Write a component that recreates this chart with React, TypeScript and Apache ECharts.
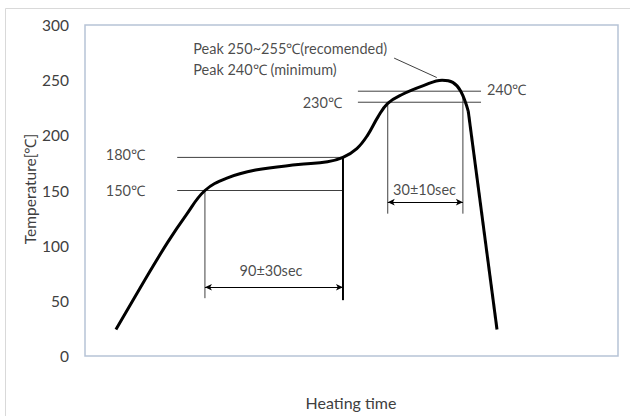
import React, { useEffect, useRef } from "react";
import * as echarts from "echarts";

// Reflow profile (schematic): [heating time (arbitrary units), temperature °C]
const profileCurve: [number, number][] = [
  [5.8, 24], [11, 67], [15.5, 103], [19, 128], [22.5, 150], [26.5, 161],
  [32, 168.5], [40, 173.5], [45.5, 176], [48.4, 180], [51, 188], [53, 200],
  [55, 217], [56.8, 229], [59.5, 237], [63.5, 245], [67, 250], [69, 248],
  [70.5, 240], [71.9, 222],
];
const coolingLine: [number, number][] = [[71.9, 222], [77.3, 24]];

const yTicks = [0, 50, 100, 150, 200, 250, 300];

// guide lines: [x1, y1, x2, y2]
const thinGuides: [number, number, number, number][] = [
  [17.3, 180, 48.4, 180],
  [17.3, 150, 48.4, 150],
  [22.5, 150, 22.5, 52.4],
  [51.2, 240, 74.3, 240],
  [51.2, 230, 74.3, 230],
  [56.8, 229, 56.8, 129],
  [70.9, 236, 70.9, 129],
  [58.0, 270, 66.0, 252.4],
];
const thickGuides: [number, number, number, number][] = [[48.4, 180, 48.4, 50.6]];
const arrows: [number, number, number][] = [
  [22.5, 48.4, 62.3],
  [56.8, 70.9, 139.4],
];

// annotations: [x, y, text, align]
const notes: [number, number, string, string][] = [
  [20.3, 278.6, "Peak 250~255℃(recomended)", "left"],
  [20.3, 260.0, "Peak 240℃ (minimum)", "left"],
  [75.4, 241.9, "240℃", "left"],
  [48.2, 229.8, "230℃", "right"],
  [3.9, 182.3, "180℃", "left"],
  [3.9, 150.0, "150℃", "left"],
  [34.9, 77.7, "90±30sec", "center"],
  [63.7, 150.6, "30±10sec", "center"],
];

const FONT = "Lato";

export default function App() {
  const ref = useRef<HTMLDivElement>(null);
  useEffect(() => {
    if (!ref.current) return;
    const chart = echarts.init(ref.current, null, { renderer: "svg" });
    const series: any[] = [];
    thinGuides.forEach((g) =>
      series.push({
        type: "line",
        data: [[g[0], g[1]], [g[2], g[3]]],
        symbol: "none",
        lineStyle: { color: "#404040", width: 1 },
        silent: true,
      })
    );
    thickGuides.forEach((g) =>
      series.push({
        type: "line",
        data: [[g[0], g[1]], [g[2], g[3]]],
        symbol: "none",
        lineStyle: { color: "#000", width: 2 },
        silent: true,
      })
    );
    series.push({
      type: "line",
      data: [],
      symbol: "none",
      markLine: {
        silent: true,
        symbol: ["arrow", "arrow"],
        symbolSize: [5, 7],
        label: { show: false },
        lineStyle: { color: "#000", width: 1, type: "solid" },
        data: arrows.map((a) => [{ coord: [a[0], a[2]] }, { coord: [a[1], a[2]] }]),
      },
    });
    series.push({
      type: "line",
      data: profileCurve,
      smooth: 0.4,
      symbol: "none",
      lineStyle: { color: "#000", width: 3 },
    });
    series.push({
      type: "line",
      data: coolingLine,
      symbol: "none",
      lineStyle: { color: "#000", width: 3 },
    });
    series.push({
      type: "scatter",
      symbolSize: 0,
      silent: true,
      data: notes.map((n) => ({
        value: [n[0], n[1]],
        label: {
          show: true,
          position: "inside",
          formatter: n[2],
          align: n[3],
          verticalAlign: "middle",
          color: "#1a1a1a",
          fontSize: 14.5,
          fontFamily: FONT,
        },
      })),
    });

    chart.setOption({
      animation: false,
      textStyle: { fontFamily: FONT },
      grid: {
        left: 85,
        top: 25,
        right: 12,
        bottom: 60,
        show: true,
        borderColor: "#b7c3d6",
        borderWidth: 1.5,
        backgroundColor: "transparent",
      },
      xAxis: {
        type: "value",
        min: 0,
        max: 100,
        axisLine: { show: false },
        axisTick: { show: false },
        axisLabel: { show: false },
        splitLine: { show: false },
      },
      yAxis: {
        type: "value",
        min: yTicks[0],
        max: yTicks[yTicks.length - 1],
        interval: 50,
        axisLine: { show: false },
        axisTick: { show: false },
        splitLine: { show: false },
        axisLabel: { color: "#404040", fontSize: 15.5, margin: 16, fontFamily: FONT },
      },
      graphic: [
        {
          type: "rect",
          shape: { x: 5.5, y: 8.5, width: 700, height: 500 },
          style: { fill: "none", stroke: "#d9d9d9", lineWidth: 1 },
          silent: true,
        },
        {
          type: "text",
          x: 30,
          y: 189,
          rotation: Math.PI / 2,
          style: {
            text: "Temperature[℃]",
            align: "center",
            verticalAlign: "middle",
            fill: "#404040",
            fontSize: 15.5,
            fontFamily: FONT,
          },
        },
        {
          type: "text",
          x: 351,
          y: 402,
          style: {
            text: "Heating time",
            align: "center",
            verticalAlign: "middle",
            fill: "#404040",
            fontSize: 16,
            fontFamily: FONT,
          },
        },
      ],
      series,
    });
    return () => chart.dispose();
  }, []);
  return (
    <div
      ref={ref}
      style={{ position: "absolute", left: 0, top: 0, width: 630, height: 416, background: "#fff" }}
    />
  );
}
